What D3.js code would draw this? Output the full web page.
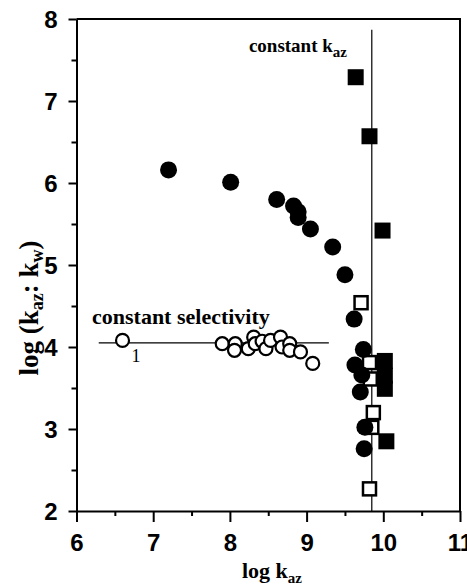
<!DOCTYPE html>
<html>
<head>
<meta charset="utf-8">
<script src="https://cdn.jsdelivr.net/npm/d3@7"></script>
<style>
  html, body { margin: 0; padding: 0; background: #fff; }
  svg { display: block; }
  .tick text { font-family: "Liberation Sans", Arial, sans-serif; font-weight: bold; }
  .serif { font-family: "Liberation Serif", "Times New Roman", serif; font-weight: bold; }
</style>
</head>
<body>
<svg id="chart" width="467" height="584"></svg>
<script>
// log k_az vs log(k_az : k_w)
const filledCircleX = [7.20, 8.01, 8.61, 8.83, 8.89, 8.89, 9.05, 9.34, 9.50, 9.62, 9.74, 9.63, 9.72, 9.70, 9.76, 9.75];
const filledCircleY = [6.16, 6.01, 5.80, 5.72, 5.65, 5.58, 5.44, 5.22, 4.88, 4.34, 3.97, 3.78, 3.66, 3.45, 3.02, 2.76];

const openCircleX = [6.60, 7.90, 8.07, 8.06, 8.24, 8.31, 8.33, 8.42, 8.47, 8.53, 8.66, 8.68, 8.78, 8.78, 8.92, 9.08];
const openCircleY = [4.08, 4.04, 4.04, 3.96, 3.98, 4.12, 4.04, 4.07, 3.98, 4.08, 4.12, 4.00, 4.04, 3.96, 3.94, 3.80];

const filledSquareX = [9.64, 9.82, 9.99, 10.02, 10.02, 10.02, 10.04];
const filledSquareY = [7.29, 6.57, 5.42, 3.83, 3.65, 3.49, 2.85];

const openSquareX = [9.71, 9.82, 9.83, 9.87, 9.85, 9.82];
const openSquareY = [4.54, 3.81, 3.61, 3.20, 3.02, 2.27];

// reference lines
const constantKaz = 9.85;           // vertical line, log k_az
const constantKazTop = 7.87;
const constantSelectivity = 4.05;   // horizontal line, log(k_az:k_w)
const selectivityRange = [6.29, 9.29];

const xTicks = [6, 7, 8, 9, 10, 11];
const xMinorTicks = [6.5, 7.5, 8.5, 9.5, 10.5];
const yTicks = [2, 3, 4, 5, 6, 7, 8];
const yMinorTicks = [2.5, 3.5, 4.5, 5.5, 6.5, 7.5];

const svg = d3.select("#chart");
const x = d3.scaleLinear().domain([6, 11]).range([76.5, 460]);
const y = d3.scaleLinear().domain([2, 8]).range([511, 19]);

// frame (top and right)
svg.append("path")
  .attr("d", `M${x(6)},${y(8)} H${x(11)} V${y(2)}`)
  .attr("fill", "none").attr("stroke", "#000").attr("stroke-width", 2);

// axes
const xAxis = svg.append("g").attr("transform", `translate(0,${y(2)})`)
  .call(d3.axisBottom(x).tickValues(xTicks).tickFormat(d3.format("d"))
    .tickSizeInner(11).tickSizeOuter(0).tickPadding(12));
const xMinor = svg.append("g").attr("transform", `translate(0,${y(2)})`)
  .call(d3.axisBottom(x).tickValues(xMinorTicks).tickFormat("").tickSizeInner(5).tickSizeOuter(0));
const yAxis = svg.append("g").attr("transform", `translate(${x(6)},0)`)
  .call(d3.axisLeft(y).tickValues(yTicks).tickFormat(d3.format("d"))
    .tickSizeInner(8).tickSizeOuter(0).tickPadding(11));
const yMinor = svg.append("g").attr("transform", `translate(${x(6)},0)`)
  .call(d3.axisLeft(y).tickValues(yMinorTicks).tickFormat("").tickSizeInner(5).tickSizeOuter(0));

[xAxis, xMinor, yAxis, yMinor].forEach(g => {
  g.select(".domain").attr("stroke-width", 2);
  g.selectAll(".tick line").attr("stroke-width", 2);
});
xMinor.select(".domain").remove();
yMinor.select(".domain").remove();
xAxis.selectAll(".tick text").attr("font-size", 24).attr("fill", "#000");
yAxis.selectAll(".tick text").attr("font-size", 24).attr("fill", "#000").attr("dy", "0.36em");

// reference lines
svg.append("line")
  .attr("x1", x(constantKaz)).attr("x2", x(constantKaz))
  .attr("y1", y(constantKazTop)).attr("y2", y(2))
  .attr("stroke", "#000").attr("stroke-width", 1.2);
svg.append("line")
  .attr("x1", x(selectivityRange[0])).attr("x2", x(selectivityRange[1]))
  .attr("y1", y(constantSelectivity)).attr("y2", y(constantSelectivity))
  .attr("stroke", "#000").attr("stroke-width", 1.2);

// open circles
svg.append("g").selectAll("circle")
  .data(openCircleX.map((v, i) => [v, openCircleY[i]]))
  .join("circle")
  .attr("cx", d => x(d[0])).attr("cy", d => y(d[1])).attr("r", 6.5)
  .attr("fill", "#fff").attr("stroke", "#000").attr("stroke-width", 2.2);

// open squares
const sq = 15;
svg.append("g").selectAll("rect")
  .data(openSquareX.map((v, i) => [v, openSquareY[i]]))
  .join("rect")
  .attr("x", d => x(d[0]) - sq / 2 + 1).attr("y", d => y(d[1]) - sq / 2 + 1)
  .attr("width", sq - 2).attr("height", sq - 2)
  .attr("fill", "#fff").attr("stroke", "#000").attr("stroke-width", 2.5);

// filled circles
svg.append("g").selectAll("circle")
  .data(filledCircleX.map((v, i) => [v, filledCircleY[i]]))
  .join("circle")
  .attr("cx", d => x(d[0])).attr("cy", d => y(d[1])).attr("r", 8.5)
  .attr("fill", "#000");

// filled squares
const fsq = 16;
svg.append("g").selectAll("rect")
  .data(filledSquareX.map((v, i) => [v, filledSquareY[i]]))
  .join("rect")
  .attr("x", d => x(d[0]) - fsq / 2).attr("y", d => y(d[1]) - fsq / 2)
  .attr("width", fsq).attr("height", fsq)
  .attr("fill", "#000");

// annotations
const kazLabel = svg.append("text").attr("class", "serif")
  .attr("x", 347).attr("y", 52).attr("text-anchor", "end").attr("font-size", 19);
kazLabel.append("tspan").text("constant k");
kazLabel.append("tspan").attr("font-size", 15).attr("dy", 5).text("az");

svg.append("text").attr("class", "serif")
  .attr("x", 92).attr("y", 324).attr("font-size", 22)
  .text("constant selectivity");

svg.append("text")
  .attr("x", x(openCircleX[0]) + 9).attr("y", y(openCircleY[0]) + 22)
  .attr("font-family", "Liberation Serif, serif").attr("font-size", 18)
  .text("1");

// axis titles
const xTitle = svg.append("text").attr("class", "serif")
  .attr("x", 272).attr("y", 578).attr("text-anchor", "middle").attr("font-size", 22);
xTitle.append("tspan").text("log k");
xTitle.append("tspan").attr("font-size", 15).attr("dy", 5).text("az");

const yTitle = svg.append("text").attr("class", "serif")
  .attr("transform", "translate(38,308) rotate(-90)")
  .attr("text-anchor", "middle").attr("font-size", 27);
yTitle.append("tspan").text("log (k");
yTitle.append("tspan").attr("font-size", 18).attr("dy", 5).text("az");
yTitle.append("tspan").attr("dy", -5).text(": k");
yTitle.append("tspan").attr("font-size", 18).attr("dy", 5).text("w");
yTitle.append("tspan").attr("dy", -5).text(")");
</script>
</body>
</html>
